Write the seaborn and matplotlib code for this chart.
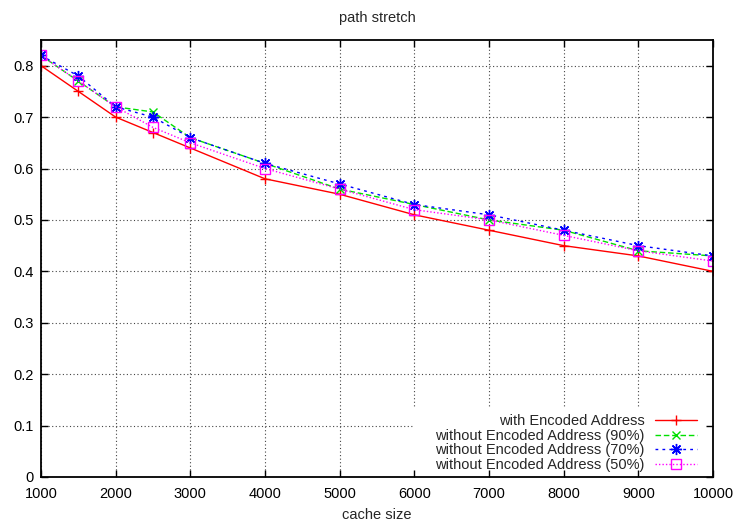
import matplotlib
matplotlib.use("Agg")
import matplotlib.pyplot as plt
from matplotlib.patches import Rectangle
import numpy as np
import pandas as pd
import seaborn as sns

# cache sizes on the x axis
cache_size = [1000, 1500, 2000, 2500, 3000, 4000, 5000, 6000, 7000, 8000, 9000, 10000]

# path stretch per configuration
with_encoded = [0.80, 0.75, 0.70, 0.67, 0.64, 0.58, 0.55, 0.51, 0.48, 0.45, 0.43, 0.40]
without_90 = [0.82, 0.77, 0.72, 0.71, 0.66, 0.61, 0.56, 0.53, 0.50, 0.48, 0.44, 0.43]
without_70 = [0.82, 0.78, 0.72, 0.70, 0.66, 0.61, 0.57, 0.53, 0.51, 0.48, 0.45, 0.43]
without_50 = [0.82, 0.77, 0.72, 0.68, 0.65, 0.60, 0.56, 0.52, 0.50, 0.47, 0.44, 0.42]

series_names = [
    "with Encoded Address",
    "without Encoded Address (90%)",
    "without Encoded Address (70%)",
    "without Encoded Address (50%)",
]
x_ticks = [1000, 2000, 3000, 4000, 5000, 6000, 7000, 8000, 9000, 10000]
y_ticks = [0, 0.1, 0.2, 0.3, 0.4, 0.5, 0.6, 0.7, 0.8]

sns.set_style("white")
plt.rcParams["font.family"] = ["Liberation Sans", "DejaVu Sans"]
FS = 10.5

fig = plt.figure(figsize=(7.41, 5.24), dpi=100)
fig.patch.set_facecolor("white")
pos = [41 / 741, 1 - 477 / 524, (713 - 41) / 741, (477 - 40) / 524]

# background axes carrying the dotted grid
gax = fig.add_axes(pos, zorder=0)
gax.set_xlim(1000, 10000)
gax.set_ylim(0, 0.85)
gax.set_xticks(x_ticks)
gax.set_yticks(y_ticks)
gax.grid(True, color="#444444", linestyle=(0, (1, 2.2)), linewidth=0.8)
gax.tick_params(left=False, bottom=False, labelleft=False, labelbottom=False)
for s in gax.spines.values():
    s.set_visible(False)
gax.add_patch(Rectangle((0.553, 0.0), 0.447, 0.158, transform=gax.transAxes,
                        facecolor="white", edgecolor="none", zorder=3))

# main axes with the data
ax = fig.add_axes(pos, zorder=1)
ax.patch.set_visible(False)

frames = []
for name, vals in zip(series_names, [with_encoded, without_90, without_70, without_50]):
    frames.append(pd.DataFrame({"cache size": cache_size, "stretch": vals, "series": name}))
df = pd.concat(frames, ignore_index=True)

styles = {
    series_names[0]: dict(color="#ff0000", dashes=None, marker="+", ms=7, mfc="#ff0000"),
    series_names[1]: dict(color="#00e000", dashes=(4, 2), marker="x", ms=6, mfc="#00e000"),
    series_names[2]: dict(color="#0000ff", dashes=(2, 3), marker=(8, 2, 0), ms=8, mfc="#0000ff"),
    series_names[3]: dict(color="#ff00ff", dashes=(1, 1.5), marker="s", ms=7, mfc="none"),
}

for name in series_names:
    st = styles[name]
    sub = df[df["series"] == name]
    line_kw = dict(color=st["color"], marker=st["marker"], markersize=st["ms"],
                   markerfacecolor=st["mfc"], markeredgecolor=st["color"],
                   markeredgewidth=1.0, linewidth=1.0, label=name)
    sns.lineplot(data=sub, x="cache size", y="stretch", ax=ax, **line_kw)
    ln = ax.get_lines()[-1]
    if st["dashes"] is not None:
        ln.set_dashes(st["dashes"])

ax.set_xlim(1000, 10000)
ax.set_ylim(0, 0.85)
ax.set_xticks(x_ticks)
ax.set_yticks(y_ticks)
ax.set_xticklabels([str(v) for v in x_ticks], fontsize=FS)
ax.set_yticklabels([f"{v:g}" for v in y_ticks], fontsize=FS)
ax.tick_params(direction="in", length=5, width=1.0, top=True, right=True,
               bottom=True, left=True, colors="black")
ax.tick_params(axis="x", pad=7.5)
ax.tick_params(axis="y", pad=5)
for s in ax.spines.values():
    s.set_visible(True)
    s.set_color("black")
    s.set_linewidth(1.3)

ax.set_xlabel("cache size", fontsize=FS, labelpad=5)
ax.set_ylabel("")
ax.set_title("path stretch", fontsize=FS, pad=13)

leg = ax.legend(loc="lower right", bbox_to_anchor=(0.976, 0.012), frameon=False,
                markerfirst=False, fontsize=FS, handlelength=2.9,
                handletextpad=0.68, labelspacing=0.03, borderaxespad=0.0,
                borderpad=0.0)

fig.savefig("out.png", dpi=100, facecolor="white")
